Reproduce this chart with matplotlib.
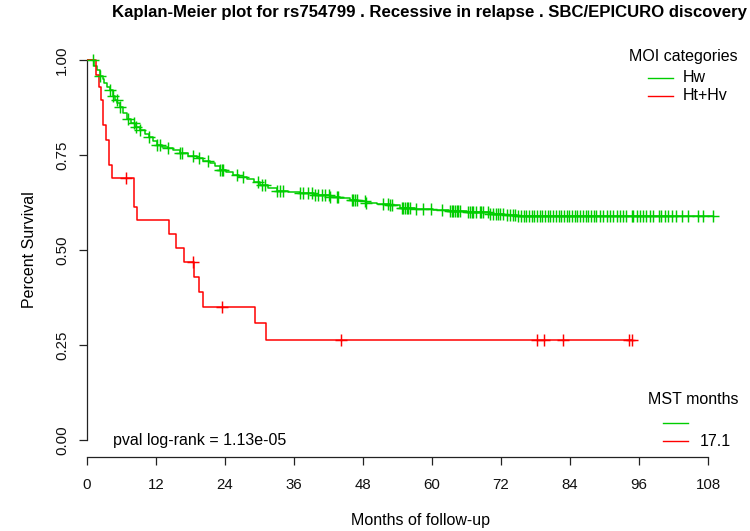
import numpy as np
import matplotlib
matplotlib.use("Agg")
import matplotlib.pyplot as plt
from matplotlib.lines import Line2D

plt.rcParams['font.family'] = ['Liberation Sans', 'DejaVu Sans']

# ---- data ----
hw_times = [0, 1.2, 1.7, 2.3, 2.7, 3.0, 3.5, 4.0, 4.5, 4.9, 5.3, 5.7, 6.3, 6.9, 7.6,
            8.3, 9.2, 10.0, 10.7, 11.4, 12.1, 13.0, 14.1, 15.0, 16.2, 17.5, 19.1,
            20.2, 21.4, 22.2, 23.1, 24.2, 25.4, 26.5, 27.8, 29.0, 30.1, 31.5, 33.0,
            35.0, 37.0, 39.5, 42.3, 44.0, 45.7, 47.0, 48.6, 50.5, 52.7, 54.4, 57.0,
            60.2, 63.0, 66.0, 70.1, 72.5, 74.7]
hw_surv = [1.0, 0.985, 0.975, 0.958, 0.95, 0.94, 0.93, 0.921, 0.905, 0.895, 0.886,
           0.877, 0.86, 0.846, 0.835, 0.824, 0.816, 0.806, 0.797, 0.786, 0.776, 0.772,
           0.768, 0.762, 0.754, 0.748, 0.741, 0.735, 0.728, 0.72, 0.711, 0.704, 0.697,
           0.692, 0.686, 0.678, 0.671, 0.663, 0.656, 0.652, 0.649, 0.644, 0.639, 0.636,
           0.632, 0.629, 0.625, 0.622, 0.618, 0.610, 0.607, 0.605, 0.602, 0.600,
           0.595, 0.592, 0.590]
hw_censor = [1.1, 2.3, 4.0, 4.6, 5.2, 5.7, 7.2, 8.1, 8.6, 9.2, 10.7, 12.1, 12.7, 14.1,
             16.2, 16.5, 18.5, 19.4, 21.1, 23.1, 23.4, 23.7, 26.0, 27.2,
             29.8, 30.4, 31.0, 33.0, 33.6, 34.1, 37.0, 37.6, 38.5, 39.1, 39.7, 40.2,
             40.8, 41.4, 42.0, 42.3, 43.4, 43.7, 46.0, 46.3, 46.6, 46.9, 48.3, 48.6,
             51.5, 52.4, 52.7, 53.0, 54.7, 55.0, 55.3, 55.6, 55.9, 56.2, 57.3, 58.5,
             59.9, 61.7, 63.1, 63.4, 63.7, 64.0, 64.3, 64.6, 64.8, 66.3, 66.6, 66.9,
             67.2, 67.7, 68.3, 68.6, 68.9, 69.8, 70.1, 70.6, 71.2, 71.5, 71.8, 72.4,
             73.0, 73.6, 74.1, 74.4, 75.0, 75.5, 76.0, 76.4, 76.9, 77.4, 77.8, 78.3,
             78.8, 79.2, 79.7, 80.2, 80.6, 81.1, 81.6, 82.0, 82.5, 83.0, 83.4, 83.9,
             84.4, 84.8, 85.3, 85.8, 86.2, 86.7, 87.2, 87.6, 88.1, 88.6, 89.2, 89.8,
             90.4, 90.9, 91.5, 92.1, 92.7, 93.3, 93.8, 94.7, 95.0, 95.6, 96.2, 96.7,
             97.3, 97.9, 98.5, 99.4, 99.9, 100.5, 101.1, 101.7, 102.5, 103.4, 104.6,
             106.3, 107.2, 108.9]

ht_times = [0, 1.6, 2.0, 2.4, 2.8, 3.3, 3.9, 4.4, 8.2, 8.75, 14.3, 15.4, 16.9, 18.6,
            19.4, 20.2, 29.2, 31.1]
ht_surv = [1.0, 0.96, 0.93, 0.895, 0.83, 0.79, 0.724, 0.689, 0.614, 0.579, 0.542,
           0.504, 0.469, 0.430, 0.390, 0.351, 0.307, 0.263]
ht_censor = [6.7, 18.5, 23.5, 44.2, 78.3, 79.4, 82.7, 94.3, 94.8]

groups = ["Hw", "Ht+Hv"]
colors = ["#00CD00", "#FF0000"]
mst_labels = ["", "17.1"]
pval_text = "pval log-rank = 1.13e-05"
x_ticks = [0, 12, 24, 36, 48, 60, 72, 84, 96, 108]
y_ticks = [0.0, 0.25, 0.5, 0.75, 1.0]
y_ticklabels = ["0.00", "0.25", "0.50", "0.75", "1.00"]

W, H = 750, 531
fig = plt.figure(figsize=(W / 100, H / 100), dpi=100)
x0_px, px_per_month = 87, 5.75
xmax = 115
y1_px, px_per_unit = 60, 380
ymin, ymax = -0.045, 1.04
left = x0_px / W
width = xmax * px_per_month / W
top_px = y1_px - (ymax - 1.0) * px_per_unit
bot_px = y1_px + (1.0 - ymin) * px_per_unit
ax = fig.add_axes([left, 1 - bot_px / H, width, (bot_px - top_px) / H])
ax.set_xlim(0, xmax)
ax.set_ylim(ymin, ymax)


def km_curve(times, surv, censor, color):
    t = np.array(times, dtype=float)
    s = np.array(surv, dtype=float)
    c = np.array(censor, dtype=float)
    end = max(t.max(), c.max())
    tt = np.append(t, end)
    ss = np.append(s, s[-1])
    ax.step(tt, ss, where="post", color=color, lw=1.1, zorder=3)
    idx = np.searchsorted(t, c, side="right") - 1
    ax.plot(c, s[idx], linestyle="none", marker="+", color=color,
            markersize=8, markeredgewidth=1.05, zorder=4)


km_curve(hw_times, hw_surv, hw_censor, colors[0])
km_curve(ht_times, ht_surv, ht_censor, colors[1])

for sp in ["top", "right"]:
    ax.spines[sp].set_visible(False)
ax.spines["left"].set_bounds(0, 1)
ax.spines["bottom"].set_bounds(0, 108)
for sp in ["left", "bottom"]:
    ax.spines[sp].set_linewidth(0.9)
    ax.spines[sp].set_color("#222222")
ax.set_xticks(x_ticks)
ax.set_xticklabels([str(v) for v in x_ticks])
ax.set_yticks(y_ticks)
ax.set_yticklabels(y_ticklabels, rotation=90, va="center")
ax.tick_params(axis="both", length=6, width=0.9, color="#222222",
               labelsize=10.8, labelcolor="#111111")
ax.tick_params(axis="x", pad=9)
ax.tick_params(axis="y", pad=7)


def fx(px):
    return px / W


def fy(py):
    return 1 - py / H


FS = 11.5
fig.text(fx(430), fy(13), "Kaplan-Meier plot for rs754799 . Recessive in relapse . SBC/EPICURO discovery",
         ha="center", va="center", fontsize=12.1, fontweight="bold")
fig.text(fx(420), fy(520), "Months of follow-up", ha="center", va="center", fontsize=FS)
fig.text(fx(30), fy(250), "Percent Survival", ha="center", va="center",
         rotation=90, fontsize=FS)
fig.text(fx(113), fy(441), pval_text, ha="left", va="center", fontsize=FS)

# legend 1
fig.text(fx(683), fy(57), "MOI categories", ha="center", va="center", fontsize=FS)
for i, (g, c) in enumerate(zip(groups, colors)):
    yy = 78 + i * 18
    fig.add_artist(Line2D([fx(648), fx(673)], [fy(yy), fy(yy)], color=c, lw=1.0,
                          transform=fig.transFigure))
    fig.text(fx(683), fy(yy), g, ha="left", va="center", fontsize=FS)

# legend 2
fig.text(fx(693), fy(400), "MST months", ha="center", va="center", fontsize=FS)
for i, (m, c) in enumerate(zip(mst_labels, colors)):
    yy = 423 + i * 18
    fig.add_artist(Line2D([fx(663), fx(688)], [fy(yy), fy(yy)], color=c, lw=1.0,
                          transform=fig.transFigure))
    fig.text(fx(700), fy(yy), m, ha="left", va="center", fontsize=FS)

fig.savefig("out.png", dpi=100)
